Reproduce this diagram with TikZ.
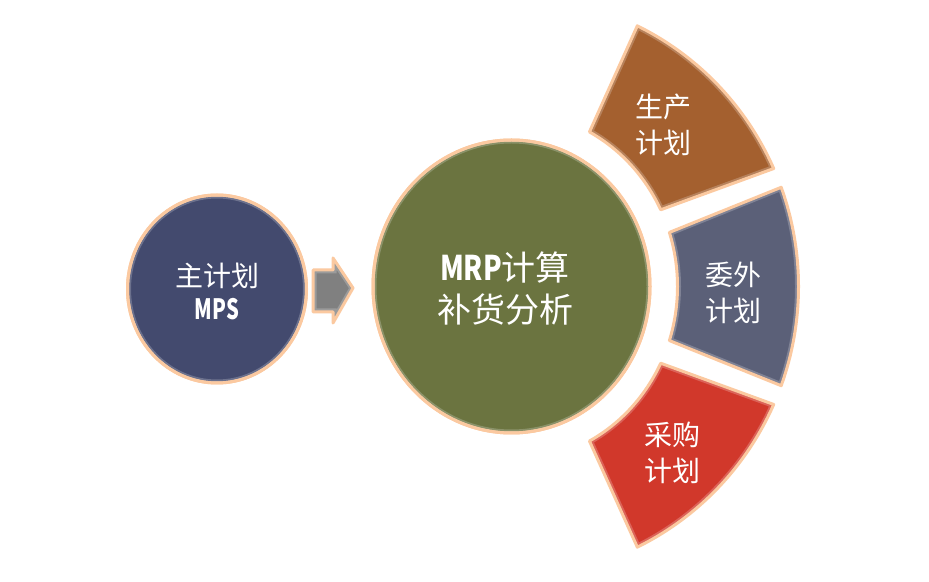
\documentclass[tikz,border=0pt]{standalone}
\usepackage{fontspec}
\setmainfont{Noto Sans CJK SC}
\usetikzlibrary{shapes.geometric,calc}
\definecolor{navyc}{HTML}{434A6E}
\definecolor{olivec}{HTML}{6B7440}
\definecolor{brownc}{HTML}{A4602F}
\definecolor{slatec}{HTML}{5B6078}
\definecolor{redc}{HTML}{D1382B}
\definecolor{glowc}{HTML}{FBC9A0}
\definecolor{arrowc}{HTML}{808080}
\tikzset{
  glow/.style={draw=glowc, line width=3pt, line join=round},
  bevel/.style={draw=white, opacity=0.22, line width=7pt},
  disc/.style={ellipse, glow, inner sep=0pt, text=white, align=center},
  lbl/.style={text=white, align=center, inner sep=0pt},
}
\newcommand\mysector[4]{% colour, outer start, outer end, inner start/end
  \fill[#1] ($(c)+(#2:287 and 290)$) arc[start angle=#2,end angle=#3,x radius=287,y radius=290]
   -- ($(c)+(#4:166 and 175)$) -- cycle;}
\begin{document}
\begin{tikzpicture}[x=1pt,y=1pt]
\useasboundingbox[fill=white] (0,0) rectangle (929,581);
\coordinate (c) at (511.5,294.5);
% sectors: brown, slate, red
\def\secA{($(c)+(24:287 and 290)$) arc[start angle=24,end angle=64,x radius=287,y radius=290]
   -- ($(c)+(62:166 and 175)$) arc[start angle=62,end angle=26,x radius=166,y radius=175] -- cycle}
\def\secB{($(c)+(-20:287 and 290)$) arc[start angle=-20,end angle=20,x radius=287,y radius=290]
   -- ($(c)+(18:166 and 175)$) arc[start angle=18,end angle=-18,x radius=166,y radius=175] -- cycle}
\def\secC{($(c)+(-64:287 and 290)$) arc[start angle=-64,end angle=-24,x radius=287,y radius=290]
   -- ($(c)+(-26:166 and 175)$) arc[start angle=-26,end angle=-62,x radius=166,y radius=175] -- cycle}
\fill[brownc] \secA;
\begin{scope}\clip \secA; \path[bevel] \secA; \end{scope}
\path[glow] \secA;
\fill[slatec] \secB;
\begin{scope}\clip \secB; \path[bevel] \secB; \end{scope}
\path[glow] \secB;
\fill[redc] \secC;
\begin{scope}\clip \secC; \path[bevel] \secC; \end{scope}
\path[glow] \secC;
% discs
\node[disc, fill=navyc, minimum width=179pt, minimum height=188pt] (mps) at (217,292) {};
\begin{scope}\clip (mps.center) ellipse[x radius=89.5,y radius=94];
  \path[bevel] (mps.center) ellipse[x radius=89.5,y radius=94]; \end{scope}
\node[disc, fill=olivec, minimum width=277pt, minimum height=293pt] (mrp) at (c) {};
\begin{scope}\clip (mrp.center) ellipse[x radius=138.5,y radius=146.5];
  \path[bevel] (mrp.center) ellipse[x radius=138.5,y radius=146.5]; \end{scope}
\path[glow] (mps.center) ellipse[x radius=89.5,y radius=94];
\path[glow] (mrp.center) ellipse[x radius=138.5,y radius=146.5];
% arrow
\def\arr{(313,311) -- (333,311) -- (333,323) -- (353,293) -- (333,258) -- (333,269) -- (313,269) -- cycle}
\fill[arrowc] \arr;
\begin{scope}\clip \arr; \path[bevel] \arr; \end{scope}
\path[glow] \arr;
% texts
\node[lbl, font=\fontsize{28}{33}\selectfont] (mpst) at (217,289.5) {主计划\\\scalebox{0.72}[1]{\bfseries MPS}};
\node[lbl, font=\fontsize{34}{42}\selectfont] (mrpt) at (505,292) {\scalebox{0.8}[1]{\bfseries MRP}计算\\补货分析};
\node[lbl, font=\fontsize{28}{36}\selectfont] (sct) at (663,456) {生产\\计划};
\node[lbl, font=\fontsize{28}{36}\selectfont] (wct) at (733,288.5) {委外\\计划};
\node[lbl, font=\fontsize{28}{36}\selectfont] (pct) at (672,128.5) {采购\\计划};
\end{tikzpicture}
\end{document}
